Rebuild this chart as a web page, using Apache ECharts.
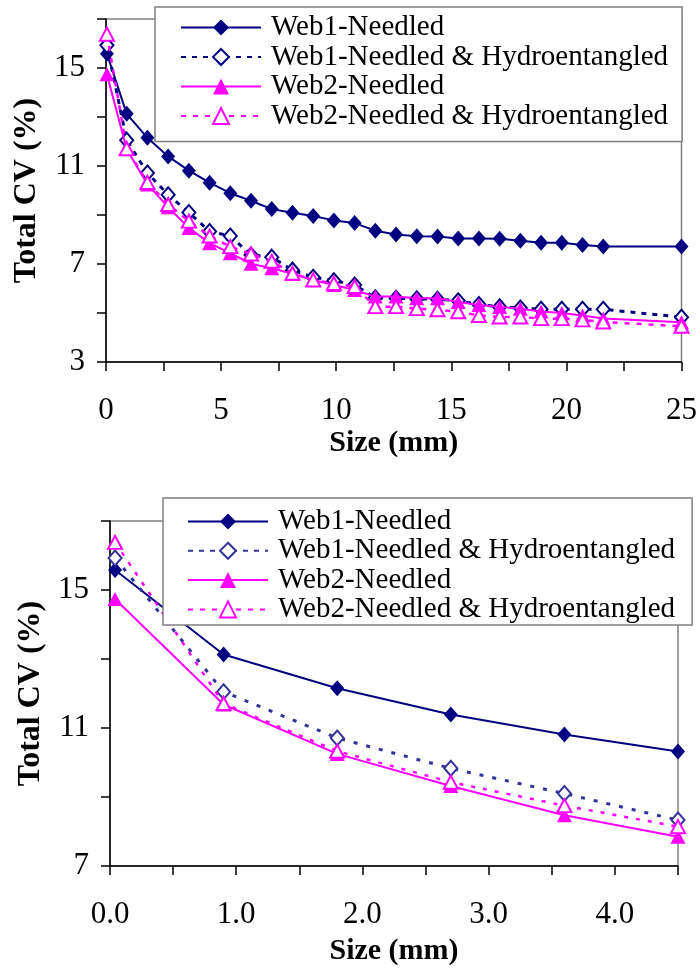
<!DOCTYPE html>
<html>
<head>
<meta charset="utf-8">
<script src="https://cdn.jsdelivr.net/npm/echarts@6/dist/echarts.min.js"></script>
<style>
html,body{margin:0;padding:0;background:#fff;}
#c{width:700px;height:969px;}
</style>
</head>
<body>
<div id="c"></div>
<script>
// ---- data ----
var seriesNames = ['Web1-Needled', 'Web1-Needled & Hydroentangled', 'Web2-Needled', 'Web2-Needled & Hydroentangled'];
var sizes = [0.04, 0.9, 1.8, 2.7, 3.6, 4.5, 5.4, 6.3, 7.2, 8.1, 9, 9.9, 10.8, 11.7, 12.6, 13.5, 14.4, 15.3, 16.2, 17.1, 18, 18.9, 19.8, 20.7, 21.6, 25];
var web1Needled = [15.58, 13.13, 12.15, 11.39, 10.81, 10.32, 9.89, 9.58, 9.24, 9.09, 8.96, 8.78, 8.67, 8.36, 8.2, 8.13, 8.12, 8.04, 8.04, 8.03, 7.95, 7.87, 7.87, 7.78, 7.71, 7.71];
var web1NeedledHydro = [15.93, 12.05, 10.71, 9.83, 9.1, 8.33, 8.14, 7.37, 7.28, 6.75, 6.46, 6.32, 6.14, 5.62, 5.6, 5.58, 5.56, 5.5, 5.35, 5.25, 5.2, 5.15, 5.15, 5.15, 5.15, 4.83];
var web2Needled = [14.74, 11.68, 10.25, 9.32, 8.47, 7.85, 7.44, 7.01, 6.83, 6.6, 6.35, 6.14, 5.94, 5.67, 5.67, 5.6, 5.6, 5.45, 5.33, 5.25, 5.17, 5.06, 5.0, 4.9, 4.78, 4.62];
var web2NeedledHydro = [16.38, 11.71, 10.33, 9.43, 8.75, 8.14, 7.71, 7.41, 7.11, 6.62, 6.35, 6.21, 6.08, 5.26, 5.26, 5.18, 5.13, 5.05, 4.9, 4.84, 4.84, 4.77, 4.77, 4.72, 4.63, 4.46];
var zoomCount = 6; // bottom chart shows the first six sizes (0 - 4.5 mm)
var yTitle = 'Total CV (%)';
var xTitle = 'Size (mm)';

function pairs(xs, ys, n) {
  var out = [];
  for (var i = 0; i < n; i++) out.push([xs[i], ys[i]]);
  return out;
}

var SERIF = 'Liberation Serif, Times New Roman, serif';
var NAVY = '#000080';
var NAVY2 = '#333399';
var MAG = '#FF00FF';

function makeSeries(gi, n, navyOpen, dashW1, dashW2) {
  return [
    {
      name: seriesNames[0], type: 'line', xAxisIndex: gi, yAxisIndex: gi,
      data: pairs(sizes, web1Needled, n),
      symbol: 'diamond', symbolSize: [14, 16], showAllSymbol: true,
      itemStyle: { color: NAVY },
      lineStyle: { color: NAVY, width: 2 }, z: 2
    },
    {
      name: seriesNames[1], type: 'line', xAxisIndex: gi, yAxisIndex: gi,
      data: pairs(sizes, web1NeedledHydro, n),
      symbol: 'diamond', symbolSize: [13, 15], showAllSymbol: true,
      itemStyle: { color: '#ffffff', borderColor: navyOpen, borderWidth: 2 },
      lineStyle: { color: navyOpen, width: 3, type: dashW1 }, z: 3
    },
    {
      name: seriesNames[2], type: 'line', xAxisIndex: gi, yAxisIndex: gi,
      data: pairs(sizes, web2Needled, n),
      symbol: 'triangle', symbolSize: [15, 14], showAllSymbol: true,
      itemStyle: { color: MAG },
      lineStyle: { color: MAG, width: 2 }, z: 4
    },
    {
      name: seriesNames[3], type: 'line', xAxisIndex: gi, yAxisIndex: gi,
      data: pairs(sizes, web2NeedledHydro, n),
      symbol: 'triangle', symbolSize: [14, 13], showAllSymbol: true,
      itemStyle: { color: '#ffffff', borderColor: MAG, borderWidth: 2 },
      lineStyle: { color: MAG, width: 2.5, type: dashW2 }, z: 5
    }
  ];
}

function legendCfg(left, top, pad, gap, lh, data) {
  return {
    orient: 'vertical', left: left, top: top,
    backgroundColor: '#ffffff', borderColor: '#808080', borderWidth: 1.5, borderRadius: 0,
    padding: pad, itemWidth: 80, itemHeight: 20, itemGap: gap,
    data: data,
    textStyle: { fontFamily: SERIF, fontSize: 29, color: '#000', lineHeight: lh, padding: [0, 0, 0, 5] },
    selectedMode: false, z: 10
  };
}

var axisLineBlack = { show: true, onZero: false, lineStyle: { color: '#000', width: 1.5 } };
var tickOut = { show: true, inside: false, length: 9, lineStyle: { color: '#000', width: 1.5 } };
var tickFont = { fontFamily: SERIF, fontSize: 31, color: '#000' };
var nameFontX = { fontFamily: SERIF, fontSize: 30, fontWeight: 'bold', color: '#000' };
var nameFontY = { fontFamily: SERIF, fontSize: 32, fontWeight: 'bold', color: '#000' };

var bottomLegendData = [
  { name: seriesNames[0] },
  { name: seriesNames[1], itemStyle: { color: '#fff', borderColor: NAVY2, borderWidth: 2 }, lineStyle: { color: NAVY2 } },
  { name: seriesNames[2] },
  { name: seriesNames[3] }
];

var option = {
  backgroundColor: '#ffffff',
  animation: false,
  legend: [
    legendCfg(155, 7, [6, 14, 11, 25], 0.5, 29, seriesNames.slice()),
    legendCfg(163, 498, [9, 17, 1, 24], 0.3, 28, bottomLegendData)
  ],
  grid: [
    { left: 106, width: 577, top: 19, height: 343, show: true, borderColor: '#808080', borderWidth: 1.5, backgroundColor: 'transparent' },
    { left: 110, width: 568, top: 521, height: 345, show: true, borderColor: '#808080', borderWidth: 1.5, backgroundColor: 'transparent' }
  ],
  xAxis: [
    {
      type: 'value', gridIndex: 0, min: 0, max: 25, interval: 2.5,
      axisLine: axisLineBlack, axisTick: tickOut, splitLine: { show: false },
      axisLabel: Object.assign({ margin: 33, formatter: function (v) { return (Math.abs(v % 5) < 1e-6) ? String(v) : ''; } }, tickFont),
      name: xTitle, nameLocation: 'middle', nameGap: 66, nameTextStyle: nameFontX
    },
    {
      type: 'value', gridIndex: 1, min: 0, max: 4.5, interval: 0.5,
      axisLine: axisLineBlack, axisTick: tickOut, splitLine: { show: false },
      axisLabel: Object.assign({ margin: 33, formatter: function (v) { return (Math.abs(v - Math.round(v)) < 1e-6) ? v.toFixed(1) : ''; } }, tickFont),
      name: xTitle, nameLocation: 'middle', nameGap: 70, nameTextStyle: nameFontX
    }
  ],
  yAxis: [
    {
      type: 'value', gridIndex: 0, min: 3, max: 17, interval: 2,
      axisLine: axisLineBlack, axisTick: tickOut, splitLine: { show: false },
      axisLabel: Object.assign({ margin: 21, formatter: function (v) { return (Math.abs((v - 3) % 4) < 1e-6) ? String(v) : ''; } }, tickFont),
      name: yTitle, nameLocation: 'middle', nameGap: 63, nameTextStyle: nameFontY
    },
    {
      type: 'value', gridIndex: 1, min: 7, max: 17, interval: 2,
      axisLine: axisLineBlack, axisTick: tickOut, splitLine: { show: false },
      axisLabel: Object.assign({ margin: 21, formatter: function (v) { return (Math.abs((v - 7) % 4) < 1e-6) ? String(v) : ''; } }, tickFont),
      name: yTitle, nameLocation: 'middle', nameGap: 63, nameTextStyle: nameFontY
    }
  ],
  series: makeSeries(0, sizes.length, NAVY, [5, 6], [5, 7]).concat(makeSeries(1, zoomCount, NAVY2, [4, 9], [4, 8]))
};

var chart = echarts.init(document.getElementById('c'), null, { renderer: 'canvas', width: 700, height: 969 });
chart.setOption(option);
</script>
</body>
</html>
